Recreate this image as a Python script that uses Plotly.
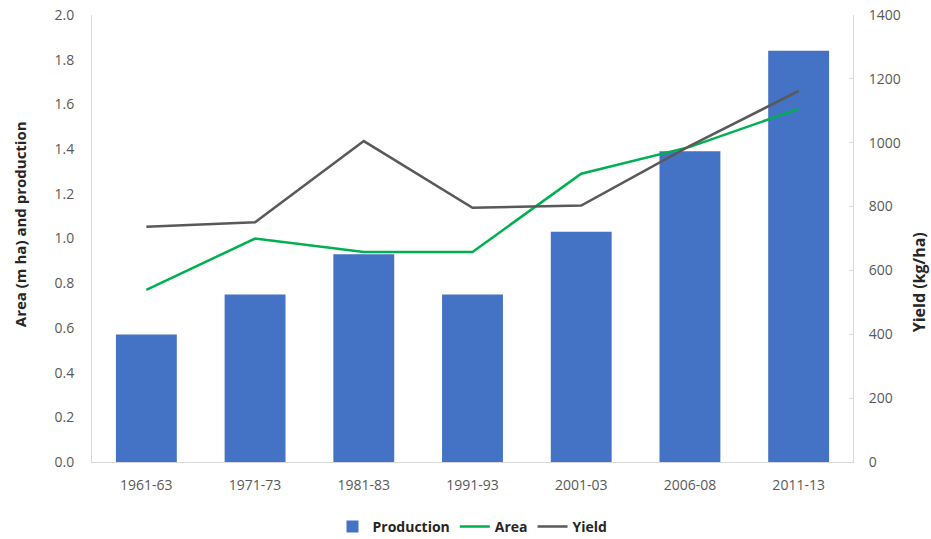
import plotly.graph_objects as go

periods = ["1961-63", "1971-73", "1981-83", "1991-93", "2001-03", "2006-08", "2011-13"]
production = [0.57, 0.75, 0.93, 0.75, 1.03, 1.39, 1.84]
area = [0.77, 1.00, 0.94, 0.94, 1.29, 1.41, 1.58]
yield_kg = [737, 751, 1005, 796, 803, 990, 1162]

left_ticks = [0.0, 0.2, 0.4, 0.6, 0.8, 1.0, 1.2, 1.4, 1.6, 1.8, 2.0]
right_ticks = [0, 200, 400, 600, 800, 1000, 1200, 1400]

font_family = "Open Sans, Liberation Sans, sans-serif"

fig = go.Figure()
fig.add_trace(go.Bar(x=periods, y=production, name="<b>Production</b>",
                     marker=dict(color="#4472c4", line=dict(width=0)), width=0.56))
fig.add_trace(go.Scatter(x=periods, y=area, name="<b>Area</b>", mode="lines",
                         line=dict(color="#00b050", width=2.5)))
fig.add_trace(go.Scatter(x=periods, y=yield_kg, name="<b>Yield</b>", mode="lines",
                         line=dict(color="#595959", width=2.5), yaxis="y2"))

fig.update_layout(
    width=931, height=539,
    margin=dict(l=92, r=78, t=15, b=77, autoexpand=False),
    plot_bgcolor="white", paper_bgcolor="white",
    font=dict(family=font_family, size=14, color="#595959"),
    showlegend=True,
    legend=dict(orientation="h", x=0.5, xanchor="center", y=-0.145, yanchor="middle",
                font=dict(size=14, color="#262626", family=font_family),
                traceorder="normal", itemwidth=30),
    xaxis=dict(type="category", showgrid=False, showline=True, linecolor="#d9d9d9", linewidth=1,
               ticks="", tickfont=dict(size=14, color="#595959"), ticklabelstandoff=10,
               automargin=False),
    yaxis=dict(range=[0, 2.0], tickvals=left_ticks,
               ticktext=[f"{v:.1f}" for v in left_ticks],
               showgrid=False, showline=True, linecolor="#d9d9d9", linewidth=1,
               zeroline=False, ticks="", ticklabelstandoff=14, automargin=False,
               tickfont=dict(size=14, color="#595959")),
    yaxis2=dict(range=[0, 1400], tickvals=right_ticks, overlaying="y", side="right",
                showgrid=False, showline=True, linecolor="#d9d9d9", linewidth=1,
                zeroline=False, ticks="inside", ticklen=4, tickcolor="#d9d9d9",
                ticklabelstandoff=12, automargin=False,
                tickfont=dict(size=14, color="#595959")),
    bargap=0.44,
    annotations=[
        dict(text="<b>Area (m ha) and production</b>", textangle=-90,
             xref="paper", yref="paper", x=-0.0946, y=0.532,
             xanchor="center", yanchor="middle", showarrow=False,
             font=dict(size=15, color="#262626", family=font_family)),
        dict(text="<b>Yield (kg/ha)</b>", textangle=-90,
             xref="paper", yref="paper", x=1.086, y=0.403,
             xanchor="center", yanchor="middle", showarrow=False,
             font=dict(size=16, color="#262626", family=font_family)),
    ],
)

fig.write_html("out.html")
